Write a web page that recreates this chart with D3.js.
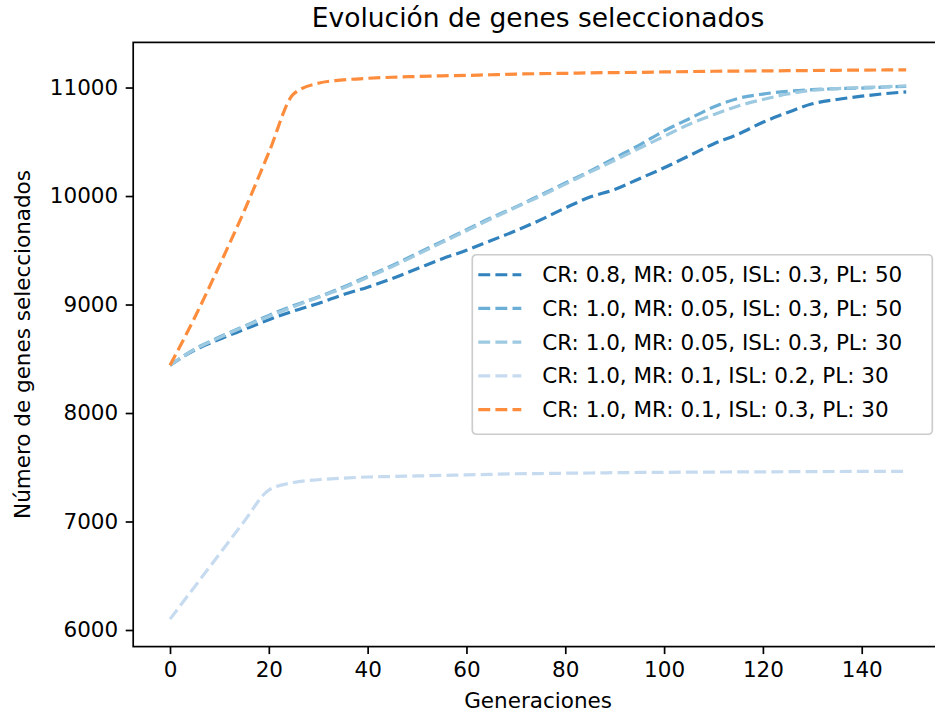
<!DOCTYPE html>
<html>
<head>
<meta charset="utf-8">
<script src="https://cdn.jsdelivr.net/npm/d3@7"></script>
<style>
  body { margin: 0; background: #fff; }
  svg { display: block; }
  text { font-family: "DejaVu Sans", sans-serif; fill: #000; }
</style>
</head>
<body>
<svg id="chart" width="935" height="716"></svg>
<script>
// Data
const generations = [0, 5, 10, 15, 20, 25, 30, 35, 40, 45, 50, 55, 60, 65, 70, 75,
    80, 85, 90, 95, 100, 105, 110, 115, 120, 125, 130, 135, 140, 145, 149]

const cr08_mr005_isl03_pl50 = [8440, 8580, 8680, 8770, 8860, 8940, 9010, 9090, 9160, 9240,
    9330, 9420, 9500, 9590, 9680, 9780, 9890, 9990, 10060, 10160, 10260, 10370, 10480,
    10570, 10680, 10770, 10850, 10890, 10920, 10945, 10960]
const cr10_mr005_isl03_pl50 = [8440, 8590, 8700, 8800, 8900, 8990, 9070, 9160, 9260, 9360,
    9470, 9580, 9690, 9800, 9900, 10010, 10120, 10230, 10350, 10470, 10600, 10710, 10820,
    10900, 10940, 10965, 10980, 10990, 10995, 11005, 11010]
const cr10_mr005_isl03_pl30 = [8440, 8585, 8695, 8795, 8890, 8980, 9065, 9150, 9250, 9350,
    9460, 9570, 9680, 9790, 9895, 10000, 10110, 10220, 10330, 10440, 10550, 10660, 10750,
    10830, 10890, 10940, 10975, 10990, 11000, 11008, 11015]
const cr10_mr01_isl02_pl30 = [6100, 6400, 6700, 7000, 7290, 7360, 7385, 7400, 7410, 7415,
    7420, 7425, 7430, 7435, 7440, 7442, 7445, 7447, 7450, 7452, 7453, 7455, 7456, 7457,
    7458, 7459, 7460, 7461, 7462, 7463, 7463]
const cr10_mr01_isl03_pl30 = [8440, 8880, 9360, 9860, 10400, 10940, 11040, 11070, 11085, 11095,
    11102, 11108, 11112, 11118, 11124, 11128, 11131, 11135, 11138, 11140, 11144, 11147,
    11150, 11152, 11153, 11155, 11157, 11159, 11161, 11162, 11163]

const seriesLabels = [
    "CR: 0.8, MR: 0.05, ISL: 0.3, PL: 50",
    "CR: 1.0, MR: 0.05, ISL: 0.3, PL: 50",
    "CR: 1.0, MR: 0.05, ISL: 0.3, PL: 30",
    "CR: 1.0, MR: 0.1, ISL: 0.2, PL: 30",
    "CR: 1.0, MR: 0.1, ISL: 0.3, PL: 30"
]
const seriesColors = ["#3182bd", "#6baed6", "#9ecae1", "#c6dbef", "#fd8d3c"]
const xTicks = [0, 20, 40, 60, 80, 100, 120, 140]
const yTicks = [6000, 7000, 8000, 9000, 10000, 11000]

const series = [cr08_mr005_isl03_pl50, cr10_mr005_isl03_pl50, cr10_mr005_isl03_pl30,
    cr10_mr01_isl02_pl30, cr10_mr01_isl03_pl30].map((vals, i) => ({
        label: seriesLabels[i],
        color: seriesColors[i],
        points: vals.map((v, j) => ({ x: generations[j], y: v }))
    }))

// Layout (axes box runs off the right edge, as in the reference)
const plot = { left: 133.2, right: 943, top: 42.4, bottom: 646.6 }
const fontSize = 21.5
const lineWidth = 3.2

const svg = d3.select("#chart")

const x = d3.scaleLinear().domain([-7.45, 156.45]).range([plot.left, plot.right])
const y = d3.scaleLinear().domain([5847, 11416]).range([plot.bottom, plot.top])

// Series lines
const line = d3.line()
    .x(d => x(d.x))
    .y(d => y(d.y))
    .curve(d3.curveMonotoneX)

svg.append("g")
    .selectAll("path")
    .data(series)
    .join("path")
    .attr("d", d => line(d.points))
    .attr("fill", "none")
    .attr("stroke", d => d.color)
    .attr("stroke-width", lineWidth)
    .attr("stroke-dasharray", "11.9 5.2")

// Axes frame
svg.append("rect")
    .attr("x", plot.left)
    .attr("y", plot.top)
    .attr("width", plot.right - plot.left)
    .attr("height", plot.bottom - plot.top)
    .attr("fill", "none")
    .attr("stroke", "#000")
    .attr("stroke-width", 1.7)

const xAxis = svg.append("g")
    .attr("transform", `translate(0,${plot.bottom})`)
    .call(d3.axisBottom(x).tickValues(xTicks).tickFormat(d3.format("d"))
        .tickSizeOuter(0).tickSize(7.5).tickPadding(7.5))
const yAxis = svg.append("g")
    .attr("transform", `translate(${plot.left},0)`)
    .call(d3.axisLeft(y).tickValues(yTicks).tickFormat(d3.format("d"))
        .tickSizeOuter(0).tickSize(7.5).tickPadding(7.5))

;[xAxis, yAxis].forEach(ax => {
    ax.select(".domain").remove()
    ax.selectAll(".tick line").attr("stroke", "#000").attr("stroke-width", 1.7)
    ax.selectAll(".tick text")
        .attr("font-family", "DejaVu Sans")
        .attr("font-size", fontSize)
        .attr("fill", "#000")
})

// Title and axis labels
svg.append("text")
    .attr("x", (plot.left + plot.right) / 2)
    .attr("y", 27)
    .attr("text-anchor", "middle")
    .attr("font-size", 26.5)
    .text("Evolución de genes seleccionados")

svg.append("text")
    .attr("x", (plot.left + plot.right) / 2)
    .attr("y", 708)
    .attr("text-anchor", "middle")
    .attr("font-size", fontSize)
    .text("Generaciones")

svg.append("text")
    .attr("transform", `translate(30,${(plot.top + plot.bottom) / 2}) rotate(-90)`)
    .attr("text-anchor", "middle")
    .attr("font-size", fontSize)
    .text("Número de genes seleccionados")

// Legend, centred on the right
const legend = { right: plot.right - 10.7, width: 460, rowGap: 33.7, handle: 43 }
const legendHeight = series.length * legend.rowGap + 11
const legendTop = (plot.top + plot.bottom) / 2 - legendHeight / 2
const legendLeft = legend.right - legend.width

const lg = svg.append("g").attr("transform", `translate(${legendLeft},${legendTop})`)
lg.append("rect")
    .attr("width", legend.width)
    .attr("height", legendHeight)
    .attr("rx", 4)
    .attr("fill", "#fff")
    .attr("fill-opacity", 0.8)
    .attr("stroke", "#cccccc")
    .attr("stroke-width", 1.7)

const rows = lg.selectAll("g.row")
    .data(series)
    .join("g")
    .attr("class", "row")
    .attr("transform", (d, i) => `translate(0,${20 + i * legend.rowGap})`)

rows.append("line")
    .attr("x1", 6)
    .attr("x2", 6 + legend.handle)
    .attr("stroke", d => d.color)
    .attr("stroke-width", lineWidth)
    .attr("stroke-dasharray", "11.9 5.2")

rows.append("text")
    .attr("x", 70)
    .attr("dy", "0.35em")
    .attr("font-size", fontSize)
    .text(d => d.label)
</script>
</body>
</html>
